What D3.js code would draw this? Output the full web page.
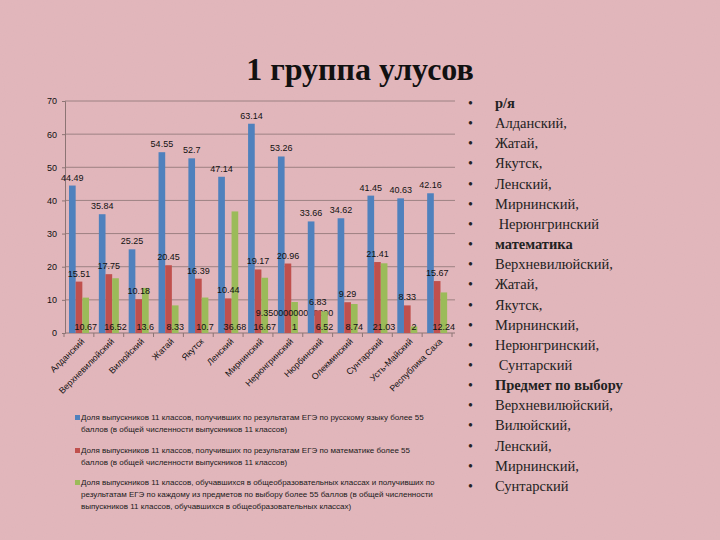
<!DOCTYPE html>
<html>
<head>
<meta charset="utf-8">
<style>
  body { margin: 0; background: #e0b4b9; }
  svg { display: block; }
</style>
</head>
<body>
<svg id="chart" width="720" height="540"></svg>
<script src="https://d3js.org/d3.v7.min.js"></script>
<script>
// chart data
var categories = ['Алданский', 'Верхневилюйский', 'Вилюйский', 'Жатай', 'Якутск', 'Ленский',
    'Мирнинский', 'Нерюнгринский', 'Нюрбинский', 'Олекминский', 'Сунтарский', 'Усть-Майский', 'Республика Саха'];
var russian = [44.49, 35.84, 25.25, 54.55, 52.7, 47.14, 63.14, 53.26, 33.66, 34.62, 41.45, 40.63, 42.16];
var maths = [15.51, 17.75, 10.18, 20.45, 16.39, 10.44, 19.17, 20.96, 6.83, 9.29, 21.41, 8.33, 15.67];
var choice = [10.67, 16.52, 13.6, 8.33, 10.7, 36.68, 16.67, 9.350000000000001, 6.52, 8.74, 21.03, 2, 12.24];
var yTicks = [0, 10, 20, 30, 40, 50, 60, 70];

var seriesNames = [
    ['Доля выпускников 11 классов, получивших по результатам ЕГЭ по русскому языку более 55',
     'баллов (в общей численности выпускников 11 классов)'],
    ['Доля выпускников 11 классов, получивших по результатам ЕГЭ по математике более 55',
     'баллов (в общей численности выпускников 11 классов)'],
    ['Доля выпускников 11 классов, обучавшихся в общеобразовательных классах и получивших по',
     'результатам ЕГЭ по каждому из предметов по выбору более 55 баллов (в общей численности',
     'выпускников 11 классов, обучавшихся в общеобразовательных классах)']
];
var colors = ['#4f81bd', '#c0504d', '#9bbb59'];

// right-hand list, bold marks the section headers
var listItems = [
    ['р/я', true], ['Алданский,', false], ['Жатай,', false], ['Якутск,', false], ['Ленский,', false],
    ['Мирнинский,', false], [' Нерюнгринский', false], ['математика', true], ['Верхневилюйский,', false],
    ['Жатай,', false], ['Якутск,', false], ['Мирнинский,', false], ['Нерюнгринский,', false],
    [' Сунтарский', false], ['Предмет по выбору', true], ['Верхневилюйский,', false], ['Вилюйский,', false],
    ['Ленский,', false], ['Мирнинский,', false], ['Сунтарский', false]
];

var svg = d3.select('#chart');

// textured pink background
var defs = svg.append('defs');
var f = defs.append('filter').attr('id', 'grain').attr('x', 0).attr('y', 0).attr('width', '100%').attr('height', '100%');
f.append('feTurbulence').attr('type', 'fractalNoise').attr('baseFrequency', 0.9).attr('numOctaves', 2).attr('result', 'n');
f.append('feColorMatrix').attr('type', 'matrix')
    .attr('values', '0 0 0 0 0.6  0 0 0 0 0.4  0 0 0 0 0.43  0 0 0 0.16 0');
svg.append('rect').attr('width', 720).attr('height', 540).attr('fill', '#e3b7bc');
svg.append('rect').attr('width', 720).attr('height', 540).attr('filter', 'url(#grain)');

svg.append('text')
    .attr('x', 360).attr('y', 80)
    .attr('text-anchor', 'middle')
    .style('font-family', '"Liberation Serif", serif')
    .style('font-weight', 'bold')
    .style('font-size', '32px')
    .attr('fill', '#111')
    .text('1 группа улусов');

var plotLeft = 65, plotRight = 455, plotTop = 101, plotBottom = 333;

var y = d3.scaleLinear().domain([0, 70]).range([plotBottom, plotTop]);
var x0 = d3.scaleBand().domain(categories).range([64, 452]);
var x1 = d3.scaleBand().domain([0, 1, 2]).range([5, 25]);

var grid = svg.append('g');
grid.selectAll('line').data(yTicks.slice(1)).enter().append('line')
    .attr('x1', plotLeft).attr('x2', plotRight)
    .attr('y1', function (d) { return y(d); }).attr('y2', function (d) { return y(d); })
    .attr('stroke', '#8c7474').attr('stroke-width', 0.8);

var yAxis = svg.append('g').attr('transform', 'translate(' + plotLeft + ',0)')
    .call(d3.axisLeft(y).tickValues(yTicks).tickSize(3).tickPadding(5));
yAxis.select('.domain').attr('stroke', '#8c7474');
yAxis.selectAll('.tick line').attr('stroke', '#8c7474');
yAxis.selectAll('text').style('font-family', '"Liberation Sans", sans-serif').style('font-size', '9px').attr('fill', '#111');

var xAxis = svg.append('g').attr('transform', 'translate(0,' + plotBottom + ')');
xAxis.append('line').attr('x1', plotLeft).attr('x2', plotRight).attr('stroke', '#8c7474');
xAxis.selectAll('.tk').data(categories.concat(['end'])).enter().append('line')
    .attr('x1', function (d, i) { return 64 + i * x0.step(); })
    .attr('x2', function (d, i) { return 64 + i * x0.step(); })
    .attr('y1', 0).attr('y2', 4).attr('stroke', '#8c7474');
xAxis.selectAll('text').data(categories).enter().append('text')
    .attr('transform', function (d) { return 'translate(' + (x0(d) + x0.bandwidth() / 2 + 6) + ',9) rotate(-45)'; })
    .attr('text-anchor', 'end')
    .style('font-family', '"Liberation Sans", sans-serif').style('font-size', '8.8px')
    .attr('fill', '#111')
    .text(function (d) { return d; });

var series = [russian, maths, choice];
var rows = categories.map(function (c, i) {
    return series.map(function (s, k) { return { cat: c, k: k, v: s[i] }; });
});

var groups = svg.append('g').selectAll('g').data(rows).enter().append('g')
    .attr('transform', function (d) { return 'translate(' + x0(d[0].cat) + ',0)'; });

groups.selectAll('rect').data(function (d) { return d; }).enter().append('rect')
    .attr('x', function (d) { return x1(d.k); })
    .attr('width', x1.bandwidth())
    .attr('y', function (d) { return y(d.v); })
    .attr('height', function (d) { return plotBottom - y(d.v); })
    .attr('fill', function (d) { return colors[d.k]; });

// value labels: first two series above the bar, the third at the base (long ones wrap)
groups.selectAll('text').data(function (d) { return d; }).enter().append('text')
    .attr('text-anchor', 'middle')
    .style('font-family', '"Liberation Sans", sans-serif').style('font-size', '9px')
    .attr('fill', '#111')
    .each(function (d) {
        var t = d3.select(this);
        var cx = x1(d.k) + x1.bandwidth() / 2;
        var s = String(d.v);
        if (d.k < 2) {
            t.attr('x', cx).attr('y', y(d.v) - 5).text(s);
        } else {
            var lines = s.length > 16 ? [s.slice(0, 16), s.slice(16)] : [s];
            lines.forEach(function (ln, j) {
                t.append('tspan').attr('x', cx)
                    .attr('y', 330 - (lines.length - 1 - j) * 14)
                    .text(ln);
            });
        }
    });

// legend
var legend = svg.append('g');
var legendY = [420, 453, 485];
seriesNames.forEach(function (lines, k) {
    legend.append('rect').attr('x', 75).attr('y', legendY[k] - 5).attr('width', 5).attr('height', 5).attr('fill', colors[k]);
    lines.forEach(function (ln, j) {
        legend.append('text')
            .attr('x', 81).attr('y', legendY[k] + j * 12)
            .style('font-family', '"Liberation Sans", sans-serif').style('font-size', '8px')
            .attr('fill', '#1a1a1a')
            .text(ln);
    });
});

// bullet list on the right
var list = svg.append('g').selectAll('g').data(listItems).enter().append('g')
    .attr('transform', function (d, i) { return 'translate(0,' + (108 + i * 20.15) + ')'; });
list.append('text').attr('x', 468).text('•')
    .style('font-family', '"Liberation Serif", serif').style('font-size', '14px').attr('fill', '#222');
list.append('text').attr('x', 495)
    .attr('xml:space', 'preserve')
    .style('white-space', 'pre')
    .style('font-family', '"Liberation Serif", serif').style('font-size', '14.5px')
    .style('font-weight', function (d) { return d[1] ? 'bold' : 'normal'; })
    .attr('fill', '#222')
    .text(function (d) { return d[0]; });
</script>
</body>
</html>
